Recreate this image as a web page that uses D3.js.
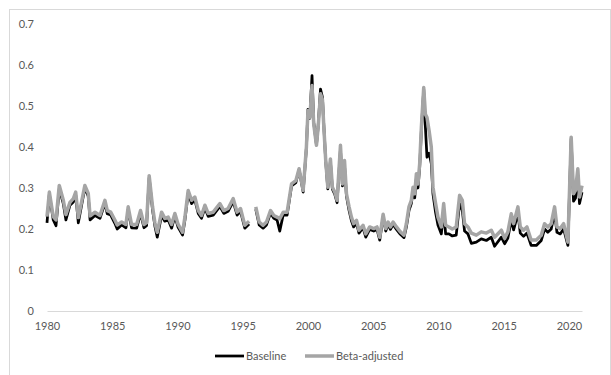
<!DOCTYPE html>
<html>
<head>
<meta charset="utf-8">
<script src="https://cdnjs.cloudflare.com/ajax/libs/d3/7.8.5/d3.min.js"></script>
<style>
  body { margin: 0; background: #fff; }
  text { font-family: Lato, "Open Sans", sans-serif; }
</style>
</head>
<body>
<div id="vis-holder"></div>
<script>

// decimal years (null value = gap in the data)
var DATES = [1980.00,1980.18,1980.48,1980.69,1980.94,1981.25,1981.45,1981.76,1982.02,1982.20,
  1982.40,1982.65,1982.90,1983.16,1983.30,1983.68,1984.06,1984.44,1984.62,1984.88,
  1985.20,1985.38,1985.72,1986.05,1986.22,1986.48,1986.87,1987.17,1987.43,1987.63,
  1987.83,1988.09,1988.27,1988.45,1988.78,1989.03,1989.29,1989.55,1989.80,1990.05,
  1990.39,1990.57,1990.82,1991.08,1991.33,1991.59,1991.84,1992.10,1992.35,1992.74,
  1993.25,1993.55,1993.88,1994.27,1994.57,1994.83,1995.16,1995.49,1995.70,1996.00,
  1996.26,1996.56,1996.82,1997.13,1997.38,1997.63,1997.84,1998.10,1998.40,1998.74,
  1999.07,1999.32,1999.63,1999.88,2000.00,2000.14,2000.31,2000.44,2000.65,2000.78,
  2000.96,2001.11,2001.21,2001.36,2001.52,2001.72,2001.87,2002.05,2002.23,2002.49,
  2002.64,2002.80,2002.95,2003.15,2003.33,2003.50,2003.72,2003.91,2004.22,2004.43,
  2004.73,2005.04,2005.29,2005.50,2005.76,2005.96,2006.14,2006.32,2006.52,2006.78,
  2007.08,2007.36,2007.54,2007.74,2007.92,2008.05,2008.18,2008.31,2008.43,2008.56,
  2008.69,2008.87,2009.00,2009.12,2009.28,2009.45,2009.58,2009.78,2009.96,2010.22,
  2010.40,2010.55,2010.80,2011.06,2011.36,2011.62,2011.83,2012.00,2012.26,2012.52,
  2012.90,2013.28,2013.67,2014.05,2014.30,2014.82,2015.07,2015.32,2015.58,2015.76,
  2016.09,2016.27,2016.52,2016.78,2017.10,2017.50,2017.88,2018.13,2018.38,2018.64,
  2018.90,2019.08,2019.33,2019.59,2019.92,2020.17,2020.35,2020.50,2020.68,2020.81,
  2021.00]

var BASELINE = [.215,.285,.222,.208,.298,.262,.222,.258,.266,.283,
  .215,.258,.300,.280,.222,.233,.226,.263,.237,.234,
  .214,.200,.210,.203,.248,.203,.202,.238,.203,.208,
  .325,.246,.207,.180,.233,.219,.222,.202,.231,.204,
  .185,.222,.288,.262,.271,.238,.226,.251,.231,.234,
  .255,.238,.243,.267,.234,.243,.202,.212,null,.248,
  .210,.202,.210,.239,.226,.222,.195,.234,.234,.305,
  .313,.345,.290,.398,.492,.470,.574,.460,.405,.450,
  .541,.521,.455,.365,.298,.365,.297,.285,.264,.395,
  .305,.355,.280,.245,.220,.205,.214,.190,.203,.180,
  .199,.195,.199,.173,.230,.195,.211,.199,.211,.199,
  .187,.179,.205,.245,.262,.292,.276,.325,.300,.350,
  .440,.541,.448,.375,.385,.360,.285,.240,.210,.188,
  .245,.188,.188,.183,.185,.262,.245,.195,.188,.165,
  .168,.176,.172,.180,.158,.180,.164,.178,.222,.198,
  .238,.190,.182,.190,.160,.160,.172,.200,.192,.200,
  .240,.192,.188,.200,.160,.420,.268,.275,.330,.262,
  .290]

var BETA_ADJ = [.230,.290,.230,.222,.306,.270,.235,.265,.274,.290,
  .228,.266,.306,.287,.232,.241,.233,.270,.245,.241,
  .222,.210,.217,.211,.254,.211,.211,.245,.211,.215,
  .330,.254,.215,.192,.241,.226,.229,.211,.238,.211,
  .192,.229,.294,.270,.278,.245,.233,.258,.238,.241,
  .262,.245,.250,.274,.241,.250,.209,.219,null,.254,
  .217,.209,.217,.245,.233,.229,.225,.241,.241,.310,
  .318,.347,.294,.400,.489,.472,.550,.456,.404,.448,
  .530,.515,.452,.367,.302,.371,.302,.290,.270,.404,
  .310,.367,.286,.254,.229,.213,.221,.197,.209,.188,
  .205,.201,.205,.180,.236,.201,.217,.205,.217,.205,
  .193,.185,.213,.254,.270,.302,.286,.335,.310,.359,
  .448,.545,.480,.472,.440,.400,.302,.262,.229,.205,
  .262,.209,.205,.200,.205,.282,.270,.213,.205,.190,
  .185,.193,.190,.197,.180,.197,.177,.193,.237,.213,
  .254,.205,.197,.205,.173,.173,.185,.213,.205,.213,
  .254,.205,.201,.213,.168,.424,.286,.294,.347,.278,
  .306]

var X_TICKS = [1980,1985,1990,1995,2000,2005,2010,2015,2020]
var Y_TICKS = [0,0.1,0.2,0.3,0.4,0.5,0.6,0.7]
var SERIES = ["Baseline","Beta-adjusted"]

var W = 611, H = 375
var margin = {top: 24, right: 29, bottom: 64, left: 47},
    width = W - margin.left - margin.right,
    height = H - margin.top - margin.bottom;

var svg = d3.select("#vis-holder")
  .append("svg")
    .attr("width", W)
    .attr("height", H)

// chart frame
svg.append("rect")
  .attr("x", 9.5).attr("y", 9.5)
  .attr("width", 601).attr("height", 380)
  .attr("fill", "none")
  .attr("stroke", "#d9d9d9")

var plot = svg.append("g")
  .attr("transform", "translate(" + margin.left + "," + margin.top + ")")

var x = d3.scaleLinear()
  .domain([1980, 2021])
  .range([0, width])

var y = d3.scaleLinear()
  .domain([0, 0.7])
  .range([height, 0])

// X axis
var xAxis = plot.append("g")
  .attr("transform", "translate(0," + height + ")")
  .call(d3.axisBottom(x).tickValues(X_TICKS).tickFormat(d3.format("d")).tickSize(0).tickPadding(11))
xAxis.select(".domain").attr("stroke", "#d9d9d9").attr("stroke-width", 1)
xAxis.selectAll("text").attr("fill", "#595959").style("font-size", "11px")

// Y axis
var yAxis = plot.append("g")
  .call(d3.axisLeft(y).tickValues(Y_TICKS).tickFormat(d => d === 0 ? "0" : d3.format(".1f")(d)).tickSize(0).tickPadding(13))
yAxis.select(".domain").remove()
yAxis.selectAll("text").attr("fill", "#595959").style("font-size", "11px")

var line = d3.line()
  .defined(d => d.v != null)
  .x(d => x(d.t))
  .y(d => y(d.v))

var baseData = DATES.map((t, i) => ({t: t, v: BASELINE[i]}))
var betaData = DATES.map((t, i) => ({t: t, v: BETA_ADJ[i]}))

plot.append("path")
  .datum(baseData)
  .attr("d", line)
  .attr("fill", "none")
  .attr("stroke", "#000")
  .attr("stroke-width", 2.75)
  .attr("stroke-linejoin", "round")

plot.append("path")
  .datum(betaData)
  .attr("d", line)
  .attr("fill", "none")
  .attr("stroke", "#a5a5a5")
  .attr("stroke-width", 3.5)
  .attr("stroke-linejoin", "round")

// legend
var legend = svg.append("g").attr("transform", "translate(0,356)")
var lx = [215, 305]
var colors = ["#000", "#a5a5a5"]
var widths = [2.75, 3.5]
SERIES.forEach((s, i) => {
  legend.append("line")
    .attr("x1", lx[i]).attr("x2", lx[i] + 29)
    .attr("y1", 0).attr("y2", 0)
    .attr("stroke", colors[i])
    .attr("stroke-width", widths[i])
  legend.append("text")
    .attr("x", lx[i] + 31)
    .attr("y", 4)
    .attr("fill", "#595959")
    .style("font-size", "11px")
    .text(s)
})

</script>
</body>
</html>
